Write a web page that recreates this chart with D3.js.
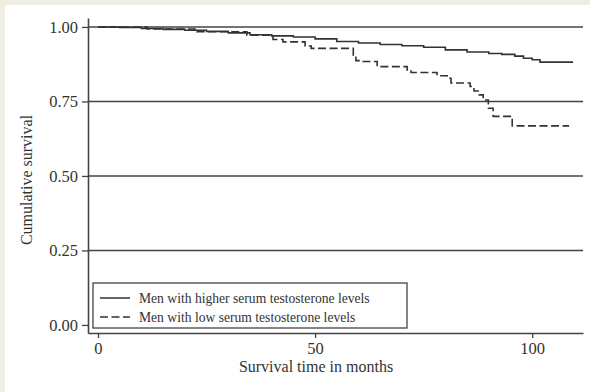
<!DOCTYPE html>
<html>
<head>
<meta charset="utf-8">
<script src="https://cdn.jsdelivr.net/npm/d3@7"></script>
<style>
  body { margin: 0; background: #ffffff; }
  text { font-family: "Liberation Serif", "DejaVu Serif", serif; fill: #333; }
</style>
</head>
<body>
<div id="km-chart"></div>
<script>
// survival curves: months and cumulative survival
const higherTime = [0, 5, 10, 15, 20, 25, 30, 35, 40, 45, 50, 55, 60, 65, 70, 75, 80, 85, 90, 93, 96, 98, 100, 101.8, 109.4];
const higherSurv = [1.000, 0.998, 0.995, 0.992, 0.989, 0.985, 0.980, 0.974, 0.970, 0.966, 0.960, 0.951, 0.946, 0.941, 0.937, 0.932, 0.923, 0.916, 0.911, 0.908, 0.902, 0.895, 0.890, 0.882, 0.882];

const lowTime = [0, 11.3, 22.8, 34.3, 40.3, 42.6, 47.7, 49.1, 58.8, 59.4, 60.4, 64.3, 71.2, 72.1, 78.1, 80.4, 81.3, 85.7, 86.6, 87.8, 88.7, 89.9, 91.0, 95.4, 108.5];
const lowSurv = [1.000, 0.993, 0.984, 0.972, 0.958, 0.950, 0.936, 0.928, 0.905, 0.887, 0.884, 0.867, 0.856, 0.847, 0.836, 0.828, 0.812, 0.800, 0.785, 0.772, 0.755, 0.727, 0.700, 0.668, 0.668];

const yTicks = [0, 0.25, 0.5, 0.75, 1];
const xTicks = [0, 50, 100];
const legendLabels = ["Men with higher serum testosterone levels", "Men with low serum testosterone levels"];

const width = 590, height = 392;

let svg = d3.select("#km-chart")
    .append("svg")
      .attr("width", width)
      .attr("height", height);

// beige page frame on top and left
svg.append("rect").attr("x", 0).attr("y", 0).attr("width", width).attr("height", 5).attr("fill", "#f0eee4");
svg.append("rect").attr("x", 0).attr("y", 0).attr("width", 5).attr("height", height).attr("fill", "#f0eee4");

let x = d3.scaleLinear()
  .domain([-2.3, 111.7])
  .range([88, 583]);

let y = d3.scaleLinear()
  .domain([-0.027, 1.03])
  .range([333, 18]);

// horizontal grid lines
svg.append("g")
   .selectAll("line")
   .data(yTicks.filter(d => d > 0))
   .join("line")
     .attr("x1", x.range()[0])
     .attr("x2", x.range()[1])
     .attr("y1", d => y(d))
     .attr("y2", d => y(d))
     .attr("stroke", "#444")
     .attr("stroke-width", 1.5);

// axes
let yAxis = svg.append("g")
   .attr("transform", `translate(${x.range()[0]}, 0)`)
   .call(d3.axisLeft(y).tickValues(yTicks).tickFormat(d3.format(".2f")).tickSize(6).tickSizeOuter(0).tickPadding(4));

let xAxis = svg.append("g")
   .attr("transform", `translate(0, ${y.range()[0]})`)
   .call(d3.axisBottom(x).tickValues(xTicks).tickSize(5).tickSizeOuter(0).tickPadding(4));

[yAxis, xAxis].forEach(g => {
  g.select(".domain").attr("stroke", "#444").attr("stroke-width", 1.6);
  g.selectAll(".tick line").attr("stroke", "#444").attr("stroke-width", 1.3);
  g.selectAll(".tick text")
   .attr("fill", "#2e2e2e")
   .style("font-family", "'Liberation Serif', serif")
   .style("font-size", "16.5px");
});

// survival step lines
let line = d3.line()
  .x(d => x(d[0]))
  .y(d => y(d[1]))
  .curve(d3.curveStepAfter);

svg.append("path")
   .datum(d3.zip(higherTime, higherSurv))
   .attr("fill", "none")
   .attr("stroke", "#333")
   .attr("stroke-width", 1.6)
   .attr("d", line);

svg.append("path")
   .datum(d3.zip(lowTime, lowSurv))
   .attr("fill", "none")
   .attr("stroke", "#333")
   .attr("stroke-width", 1.6)
   .attr("stroke-dasharray", "8,3.5")
   .attr("d", line);

// axis titles
svg.append("text")
   .attr("x", 316)
   .attr("y", 372)
   .attr("text-anchor", "middle")
   .style("font-size", "16px")
   .text("Survival time in months");

svg.append("text")
   .attr("transform", "translate(32, 180) rotate(-90)")
   .attr("text-anchor", "middle")
   .style("font-size", "16px")
   .text("Cumulative survival");

// legend
let legend = svg.append("g");
legend.append("rect")
   .attr("x", 93).attr("y", 283)
   .attr("width", 314).attr("height", 45)
   .attr("fill", "#fff")
   .attr("stroke", "#444")
   .attr("stroke-width", 1.3);

legendLabels.forEach((label, i) => {
  let ly = 298 + i * 19;
  legend.append("line")
     .attr("x1", 100).attr("x2", 130)
     .attr("y1", ly).attr("y2", ly)
     .attr("stroke", "#333")
     .attr("stroke-width", 1.5)
     .attr("stroke-dasharray", i === 1 ? "8,3.5" : null);
  legend.append("text")
     .attr("x", 139)
     .attr("y", ly + 4.5)
     .style("font-size", "13.6px")
     .text(label);
});
</script>
</body>
</html>
